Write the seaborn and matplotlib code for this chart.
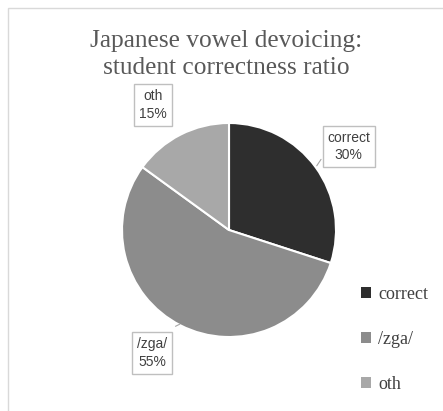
import matplotlib
matplotlib.use("Agg")
import matplotlib.pyplot as plt
import seaborn as sns
from matplotlib.patches import Patch, Rectangle

sns.set_theme(style="white")
plt.rcParams['font.family'] = ['Liberation Serif', 'DejaVu Serif']

categories = ["correct", "/zga/", "oth"]
shares = [30, 55, 15]
colors = ["#2e2e2e", "#8c8c8c", "#a8a8a8"]
# label box centres, in pie-radius units
label_pos = [(1.12, 0.78), (-0.72, -1.15), (-0.71, 1.17)]

W, H = 443, 411
fig = plt.figure(figsize=(W / 100, H / 100), dpi=100)
fig.patch.set_facecolor("white")

# outer chart frame
fig.add_artist(Rectangle((8 / W, -0.05), 1.1, 1 - 8 / H + 0.05, transform=fig.transFigure,
                         fill=False, edgecolor="#d9d9d9", linewidth=1))

fig.text(0.51, 1 - 30 / H, "Japanese vowel devoicing:\nstudent correctness ratio",
         ha="center", va="top", fontsize=18.3, color="#595959", linespacing=1.3)

cx, cy, r = 229, 230, 107
ax = fig.add_axes([(cx - r) / W, (H - cy - r) / H, 2 * r / W, 2 * r / H])
wedges, _ = ax.pie(shares, colors=colors, startangle=90, counterclock=False,
                   wedgeprops=dict(edgecolor="white", linewidth=1.5))
ax.set_xlim(-1, 1)
ax.set_ylim(-1, 1)
ax.set_aspect("auto")
ax.axis("off")

sans = ['Liberation Sans', 'DejaVu Sans']
for cat, val, (lx, ly) in zip(categories, shares, label_pos):
    ax.text(lx, ly, f"{cat}\n{val}%", ha="center", va="center", fontsize=10,
            family=sans, color="#404040", linespacing=1.35, clip_on=False,
            bbox=dict(boxstyle="square,pad=0.35", facecolor="white",
                      edgecolor="#bfbfbf", linewidth=1))

# short leader lines
ax.plot([0.82, 0.86], [0.6, 0.66], color="#a6a6a6", lw=0.8, clip_on=False)
ax.plot([-0.50, -0.46], [-0.90, -0.88], color="#a6a6a6", lw=0.8, clip_on=False)

handles = [Patch(facecolor=c, edgecolor="none") for c in colors]
fig.legend(handles, categories, loc="upper left", bbox_to_anchor=(345 / W, 1 - 270 / H),
           frameon=False, fontsize=13, handlelength=0.55, handleheight=0.55,
           handletextpad=0.4, labelspacing=1.55, labelcolor="#404040")

fig.savefig("out.png", dpi=100, facecolor="white")
